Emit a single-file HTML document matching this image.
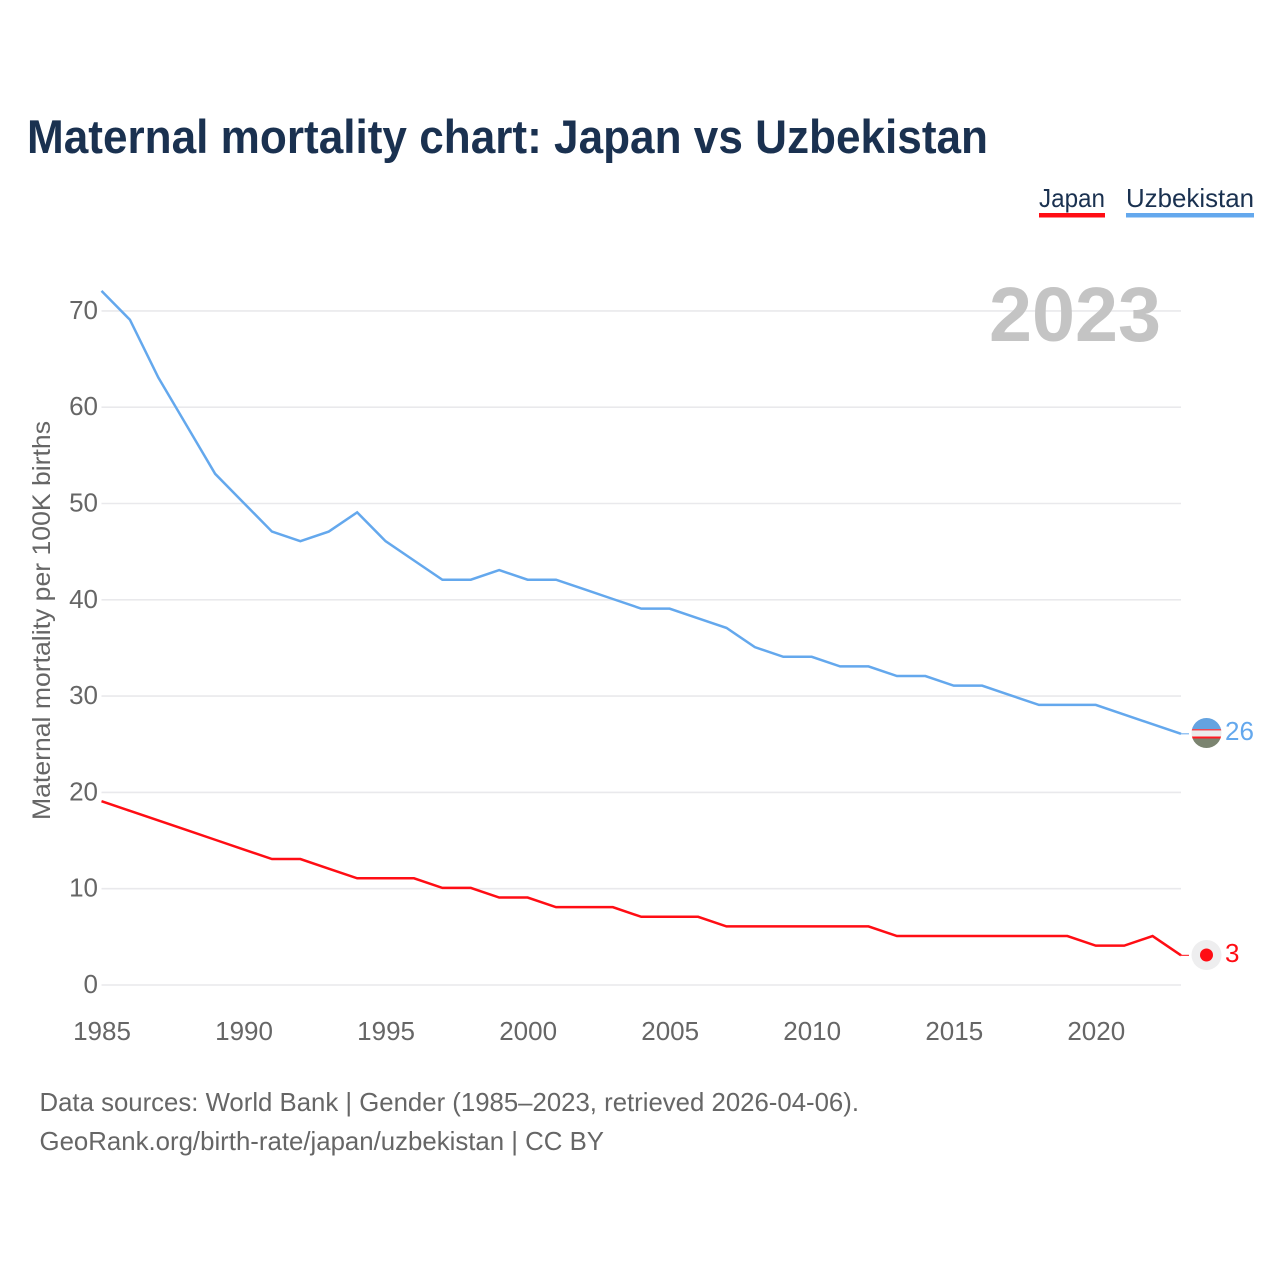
<!DOCTYPE html>
<html lang="en">
<head>
<meta charset="utf-8">
<title>Maternal mortality chart: Japan vs Uzbekistan</title>
<style>
html,body{margin:0;padding:0;background:#fff;width:1280px;height:1280px;overflow:hidden}
svg{display:block}
text{font-family:"Liberation Sans",sans-serif}
</style>
</head>
<body>
<svg id="chart" width="1280" height="1280" viewBox="0 0 1280 1280" xmlns="http://www.w3.org/2000/svg">
  <rect width="1280" height="1280" fill="#fff"/>
  <text x="27" y="153" font-size="47" font-weight="700" fill="#1a3150" textLength="961" lengthAdjust="spacingAndGlyphs">Maternal mortality chart: Japan vs Uzbekistan</text>

  <text x="1039" y="207" font-size="26" fill="#1a3150" textLength="66" lengthAdjust="spacingAndGlyphs">Japan</text>
  <rect x="1039" y="213" width="66" height="4.5" fill="#ff0d14"/>
  <text x="1126" y="207" font-size="26" fill="#1a3150" textLength="128" lengthAdjust="spacingAndGlyphs">Uzbekistan</text>
  <rect x="1126" y="213" width="128" height="4.5" fill="#64a8ed"/>

  <g id="grid"></g>
  <g id="yticks"></g>
  <g id="xticks"></g>

  <text x="989" y="341" font-size="77" font-weight="700" fill="#c4c4c4" textLength="172" lengthAdjust="spacingAndGlyphs">2023</text>

  <text transform="translate(50 820) rotate(-90)" x="0" y="0" font-size="25" fill="#666" textLength="399" lengthAdjust="spacingAndGlyphs">Maternal mortality per 100K births</text>

  <g id="series" transform="translate(0 -0.8)"></g>

  <g id="flag-uz">
    <clipPath id="flag-clip"><circle id="flag-clip-circle" cx="1206.5" cy="733" r="15"/></clipPath>
    <g clip-path="url(#flag-clip)">
      <rect x="1190" y="717" width="34" height="13" fill="#64a3e0"/>
      <rect x="1190" y="729" width="34" height="1.5" fill="#ee4a55"/>
      <rect x="1190" y="730.5" width="34" height="6.5" fill="#ececec"/>
      <rect x="1190" y="736.5" width="34" height="2" fill="#ff1a22"/>
      <rect x="1190" y="738.5" width="34" height="11" fill="#7b8470"/>
    </g>
  </g>
  <g id="flag-jp">
    <circle cx="1206.5" cy="955" r="15" fill="#eeeeef"/>
    <circle cx="1206.5" cy="955" r="6.5" fill="#ff0d14"/>
  </g>

  <text id="end-uz" x="1225" y="740" font-size="26" fill="#64a8ed"></text>
  <text id="end-jp" x="1225" y="962" font-size="26" fill="#ff0d14"></text>

  <text x="39.5" y="1111" font-size="26" fill="#666" textLength="819.5" lengthAdjust="spacingAndGlyphs">Data sources: World Bank | Gender (1985–2023, retrieved 2026-04-06).</text>
  <text x="39.5" y="1150" font-size="26" fill="#666" textLength="564.5" lengthAdjust="spacingAndGlyphs">GeoRank.org/birth-rate/japan/uzbekistan | CC BY</text>
</svg>
<script>
const years = [1985,1986,1987,1988,1989,1990,1991,1992,1993,1994,1995,1996,1997,1998,1999,2000,2001,2002,2003,2004,2005,2006,2007,2008,2009,2010,2011,2012,2013,2014,2015,2016,2017,2018,2019,2020,2021,2022,2023];
const japanValues = [19,18,17,16,15,14,13,13,12,11,11,11,10,10,9,9,8,8,8,7,7,7,6,6,6,6,6,6,5,5,5,5,5,5,5,4,4,5,3];
const uzbekistanValues = [72,69,63,58,53,50,47,46,47,49,46,44,42,42,43,42,42,41,40,39,39,38,37,35,34,34,33,33,32,32,31,31,30,29,29,29,28,27,26];
const yTickValues = [0,10,20,30,40,50,60,70];
const xTickValues = [1985,1990,1995,2000,2005,2010,2015,2020];

const NS = 'http://www.w3.org/2000/svg';
const xScale = function (year) { return 101.5 + (year - 1985) * (1181 - 101.5) / 38; };
const yScale = function (value) { return 985 - value * 9.63; };
const make = function (tag, parent, attrs, text) {
  const el = document.createElementNS(NS, tag);
  Object.keys(attrs).forEach(function (k) { el.setAttribute(k, attrs[k]); });
  if (text !== undefined) el.textContent = text;
  document.getElementById(parent).appendChild(el);
  return el;
};

yTickValues.forEach(function (v) {
  const line = make('line', 'grid', { x1: 101.5, x2: 1181, y1: yScale(v), y2: yScale(v), stroke: '#e9e9ec', 'stroke-width': 1.6 });
  
  
  const label = make('text', 'yticks', { x: 98, y: yScale(v) + 8, 'text-anchor': 'end', 'font-size': 26, fill: '#666' }, String(v));
  
  
});

xTickValues.forEach(function (y) {
  const label = make('text', 'xticks', { x: xScale(y) + 0.5, y: 1040, 'text-anchor': 'middle', 'font-size': 26, fill: '#666' }, String(y));
  
  
});

const drawSeries = function (name, values, color) {
  const pts = values.map(function (v, i) { return xScale(years[i]).toFixed(2) + ',' + yScale(v).toFixed(2); });
  const line = make('polyline', 'series', { points: pts.join(' '), fill: 'none', stroke: color, 'stroke-width': 2.5, 'stroke-linejoin': 'miter' });
  
  
  const lastY = yScale(values[values.length - 1]);
  const stub = make('line', 'series', { x1: 1181, x2: 1189, y1: lastY, y2: lastY, stroke: color, 'stroke-width': 1 });
  
  
};
drawSeries('japan', japanValues, '#ff0d14');
drawSeries('uzbekistan', uzbekistanValues, '#64a8ed');

document.getElementById('end-uz').textContent = String(uzbekistanValues[uzbekistanValues.length - 1]);
document.getElementById('end-jp').textContent = String(japanValues[japanValues.length - 1]);
</script>
</body>
</html>
